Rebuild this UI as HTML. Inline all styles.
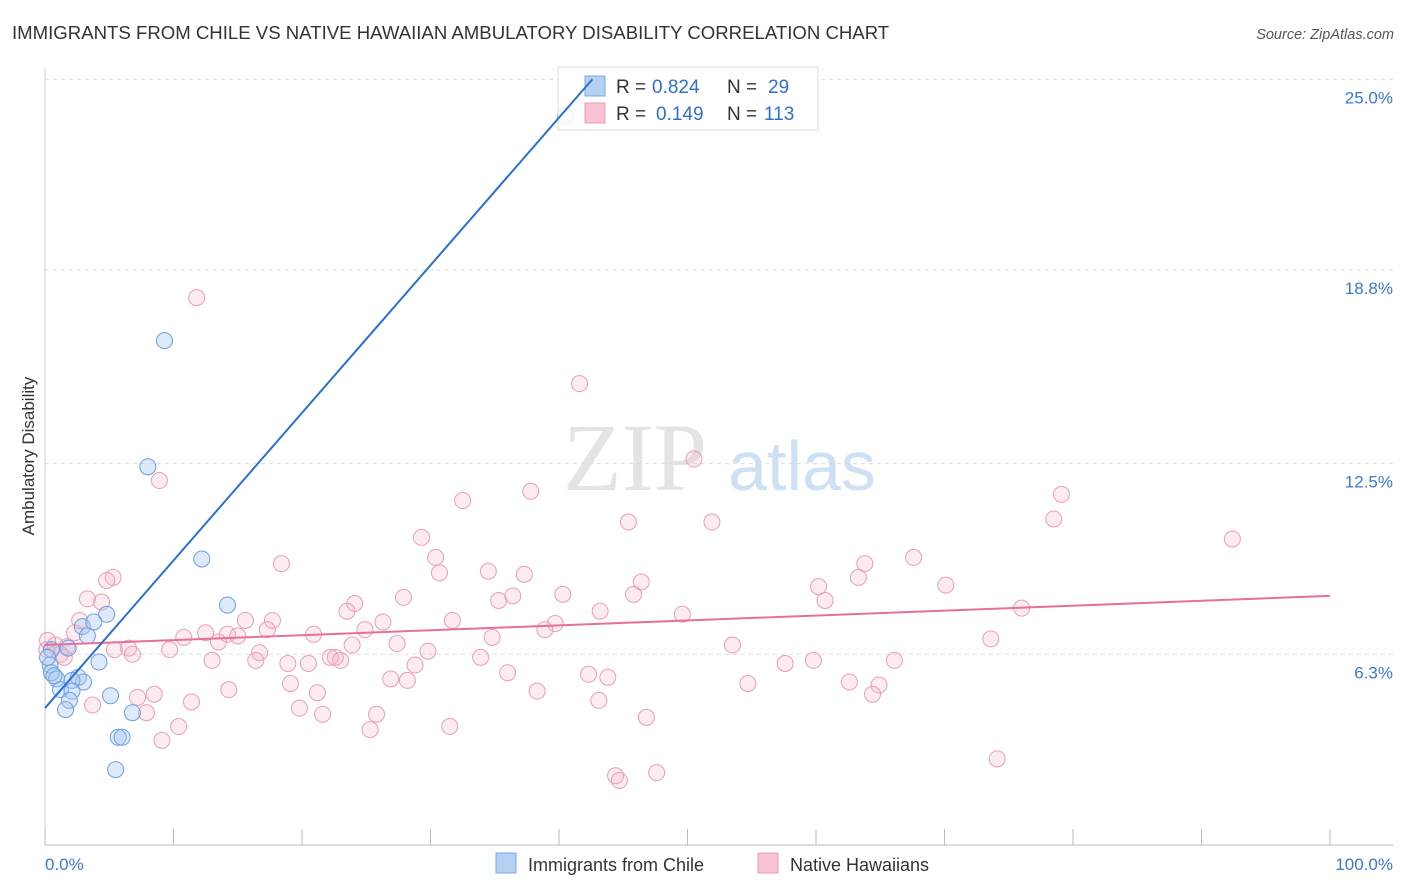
<!DOCTYPE html>
<html><head><meta charset="utf-8"><style>
body{margin:0;background:#fff;font-family:"Liberation Sans",sans-serif;}
svg{display:block}
</style></head><body>
<svg id="chart" width="1406" height="892" xmlns="http://www.w3.org/2000/svg" xml:space="preserve">
<text x="12" y="39" font-size="18.6" fill="#333">IMMIGRANTS FROM CHILE VS NATIVE HAWAIIAN AMBULATORY DISABILITY CORRELATION CHART</text>
<text x="1394" y="39" font-size="14.5" fill="#555" text-anchor="end" font-style="italic">Source: ZipAtlas.com</text>
<g>
<text x="635" y="490" font-size="96" fill="#e4e4e4" font-family="Liberation Serif,serif" text-anchor="middle">ZIP</text>
<text x="802" y="490" font-size="70" fill="#cfe0f4" text-anchor="middle">atlas</text>
</g>
<g id="grid"></g>
<g id="axes"></g>
<g id="marks"></g>
<g>
<rect x="558" y="67" width="260" height="63" fill="#fff" fill-opacity="0.85" stroke="#ddd"/>
<rect x="585" y="76" width="20" height="20" fill="#b5d0f3" stroke="#7aa8e4"/>
<rect x="585" y="103" width="20" height="20" fill="#f7c3d3" stroke="#ec9db6"/>
<text x="616" y="93" font-size="19" fill="#333">R = </text><text x="652" y="93" font-size="19" fill="#2f6fd1">0.824</text>
<text x="727" y="93" font-size="19" fill="#333">N = </text><text x="768" y="93" font-size="19" fill="#2f6fd1">29</text>
<text x="616" y="120" font-size="19" fill="#333">R = </text><text x="656" y="120" font-size="19" fill="#2f6fd1">0.149</text>
<text x="727" y="120" font-size="19" fill="#333">N = </text><text x="764" y="120" font-size="19" fill="#2f6fd1">113</text>
</g>
<g>
<rect x="496" y="853" width="20" height="20" fill="#b5d0f3" stroke="#7aa8e4"/>
<text x="528" y="871" font-size="18" fill="#333">Immigrants from Chile</text>
<rect x="758" y="853" width="20" height="20" fill="#f7c3d3" stroke="#ec9db6"/>
<text x="790" y="871" font-size="18" fill="#333">Native Hawaiians</text>
</g>
<text transform="translate(34,456) rotate(-90)" font-size="17" fill="#333" text-anchor="middle">Ambulatory Disability</text>
<text x="45" y="870" font-size="17" fill="#3b78d8">0.0%</text>
<text x="1393" y="870" font-size="17" fill="#3b78d8" text-anchor="end">100.0%</text>
<g id="top"></g>
</svg>
<script>
const yTicks=[6.3,12.5,18.8,25.0];
const yTickLabels=["6.3%","12.5%","18.8%","25.0%"];
const xTicks=[0,10,20,30,40,50,60,70,80,90,100];
const chileX=[40.5,9.3,8.0,12.2,14.2,4.8,2.9,3.8,3.3,1.8,0.5,0.4,0.5,0.9,2.6,3.0,2.1,4.2,1.2,2.1,5.1,1.9,1.6,6.8,5.7,6.0,5.5,0.2,0.7];
const chileY=[23.8,16.5,12.4,9.4,7.9,7.6,7.2,7.35,6.9,6.5,6.45,5.95,5.7,5.5,5.55,5.4,5.45,6.05,5.15,5.1,4.95,4.8,4.5,4.4,3.6,3.6,2.55,6.2,5.6];
const hawX=[11.8,41.6,50.5,8.9,37.8,32.5,79.1,78.5,45.4,51.9,92.4,29.3,18.4,30.4,67.6,30.7,34.5,37.3,63.8,5.3,4.8,46.4,60.2,63.3,70.1,40.3,45.8,36.4,27.9,35.3,3.3,4.4,60.7,24.1,23.5,43.2,76.0,49.6,31.7,26.3,15.6,17.7,39.7,2.7,38.9,24.9,12.5,14.2,15.0,17.3,10.8,20.9,34.8,2.3,73.6,23.9,27.4,13.5,0.8,1.7,0.15,5.4,6.5,6.8,9.7,1.2,29.8,1.5,53.5,16.7,22.6,22.2,23.0,13.0,16.4,18.9,20.5,33.9,57.6,59.8,66.1,28.8,36.0,42.3,43.8,26.9,28.2,54.7,62.6,64.9,19.1,14.3,8.5,21.2,7.2,64.4,38.3,43.1,11.4,3.7,19.8,7.9,21.6,25.8,46.8,10.4,31.5,25.3,9.1,74.1,44.4,47.6,44.7,0.2];
const hawY=[17.9,15.1,12.65,11.95,11.6,11.3,11.5,10.7,10.6,10.6,10.05,10.1,9.25,9.45,9.45,8.95,9.0,8.9,9.25,8.8,8.7,8.65,8.5,8.8,8.55,8.25,8.25,8.2,8.15,8.05,8.1,8.0,8.05,7.95,7.7,7.7,7.8,7.6,7.4,7.35,7.4,7.4,7.3,7.4,7.1,7.1,7.0,6.95,6.9,7.1,6.85,6.95,6.85,7.0,6.8,6.6,6.65,6.7,6.6,6.55,6.45,6.45,6.5,6.3,6.45,6.3,6.4,6.2,6.6,6.35,6.2,6.2,6.1,6.1,6.1,6.0,6.0,6.2,6.0,6.1,6.1,5.95,5.7,5.65,5.55,5.5,5.45,5.35,5.4,5.3,5.35,5.15,5.0,5.05,4.9,5.0,5.1,4.8,4.75,4.65,4.55,4.4,4.35,4.35,4.25,3.95,3.95,3.85,3.5,2.9,2.35,2.45,2.2,6.75];
const chileTrendX=[0,42.6];
const chileTrendY=[4.55,25.0];
const hawTrendX=[0,100];
const hawTrendY=[6.6,8.2];
const NS="http://www.w3.org/2000/svg";
const X0=45,X1=1330,Y0=848,PXY=30.75;
const sx=v=>X0+v/100*(X1-X0);
const sy=v=>Y0-v*PXY;
function mk(tag,attrs,parent){const e=document.createElementNS(NS,tag);for(const k in attrs)e.setAttribute(k,attrs[k]);document.getElementById(parent).appendChild(e);return e;}
yTicks.forEach((t,i)=>{
 const l=mk('line',{x1:45,x2:1393,y1:sy(t),y2:sy(t),stroke:'#dcdcdc','stroke-dasharray':'4,4'},'grid');
 
 
 const tx=mk('text',{x:1393,y:sy(t)+24,'font-size':17,fill:'#3b78d8','text-anchor':'end'},'grid');
 tx.textContent=yTickLabels[i];
 
 
});
const ax=mk('line',{x1:45,x2:1393,y1:845,y2:845,stroke:'#bbb'},'axes');


const ay=mk('line',{x1:45,x2:45,y1:68,y2:845,stroke:'#ccc'},'axes');


xTicks.forEach(t=>{
 const l=mk('line',{x1:sx(t),x2:sx(t),y1:829,y2:845,stroke:'#bbb'},'axes');
 
 
});
hawX.forEach((x,i)=>{
 const c=mk('circle',{cx:sx(x),cy:sy(hawY[i]),r:8,fill:'rgba(244,176,200,0.25)',stroke:'#ec9db6','stroke-width':1},'marks');
 
 
});
chileX.forEach((x,i)=>{
 const c=mk('circle',{cx:sx(x),cy:sy(chileY[i]),r:8,fill:'rgba(160,196,240,0.35)',stroke:'#6a9fe0','stroke-width':1},'marks');
 
 
});
const t1=mk('line',{x1:sx(chileTrendX[0]),y1:sy(chileTrendY[0]),x2:sx(chileTrendX[1]),y2:sy(chileTrendY[1]),stroke:'#2a6fd6','stroke-width':2},'top');


const t2=mk('line',{x1:sx(hawTrendX[0]),y1:sy(hawTrendY[0]),x2:sx(hawTrendX[1]),y2:sy(hawTrendY[1]),stroke:'#e5709a','stroke-width':2},'marks');


</script>
</body></html>
